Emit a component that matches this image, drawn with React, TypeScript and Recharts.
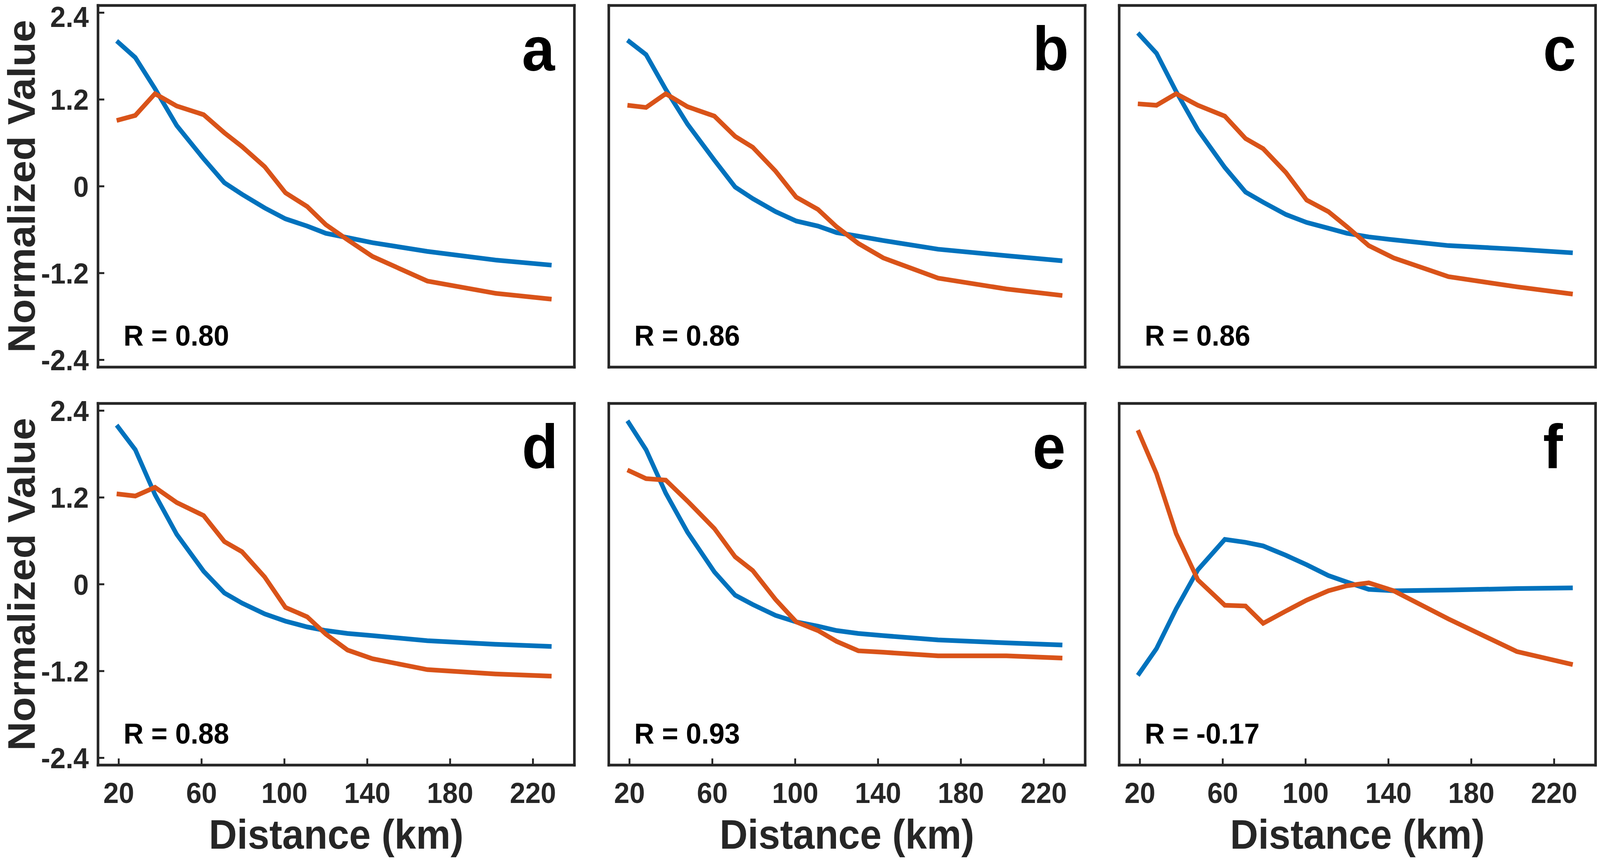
import React, { useEffect, useState } from 'react';
import { LineChart, Line, XAxis, YAxis } from 'recharts';

// ---------------- data ----------------
const distance = [19, 28, 37.5, 48, 61, 71, 79.5, 90.5, 100.5, 111, 120, 130.5, 142.5, 169, 202, 229];

const blueA = [2.01, 1.78, 1.35, 0.84, 0.38, 0.05, -0.11, -0.3, -0.45, -0.55, -0.65, -0.71, -0.78, -0.9, -1.02, -1.09];
const orangeA = [0.91, 0.98, 1.28, 1.11, 0.99, 0.74, 0.55, 0.27, -0.09, -0.28, -0.53, -0.74, -0.97, -1.31, -1.48, -1.56];

const blueB = [2.02, 1.82, 1.34, 0.86, 0.36, -0.01, -0.17, -0.35, -0.48, -0.55, -0.64, -0.69, -0.75, -0.87, -0.96, -1.03];
const orangeB = [1.12, 1.09, 1.28, 1.1, 0.97, 0.69, 0.54, 0.21, -0.15, -0.32, -0.56, -0.79, -0.99, -1.27, -1.42, -1.51];

const blueC = [2.12, 1.84, 1.31, 0.78, 0.26, -0.08, -0.22, -0.39, -0.5, -0.58, -0.65, -0.7, -0.74, -0.82, -0.87, -0.92];
const orangeC = [1.14, 1.12, 1.28, 1.12, 0.97, 0.66, 0.52, 0.19, -0.19, -0.35, -0.56, -0.82, -0.99, -1.25, -1.39, -1.49];

const blueD = [2.2, 1.86, 1.24, 0.69, 0.18, -0.12, -0.26, -0.41, -0.51, -0.59, -0.64, -0.68, -0.71, -0.78, -0.83, -0.86];
const orangeD = [1.25, 1.22, 1.34, 1.13, 0.95, 0.59, 0.45, 0.1, -0.32, -0.45, -0.69, -0.91, -1.03, -1.18, -1.24, -1.27];

const blueE = [2.26, 1.86, 1.26, 0.72, 0.17, -0.15, -0.28, -0.43, -0.52, -0.58, -0.64, -0.68, -0.71, -0.77, -0.81, -0.84];
const orangeE = [1.58, 1.46, 1.44, 1.15, 0.77, 0.38, 0.19, -0.21, -0.52, -0.64, -0.79, -0.92, -0.94, -0.99, -0.99, -1.02];

const blueF = [-1.26, -0.89, -0.34, 0.2, 0.62, 0.58, 0.53, 0.4, 0.27, 0.12, 0.03, -0.07, -0.09, -0.08, -0.06, -0.05];
const orangeF = [2.13, 1.53, 0.7, 0.06, -0.29, -0.3, -0.54, -0.37, -0.22, -0.09, -0.02, 0.02, -0.09, -0.48, -0.93, -1.11];

const blueSeries = [blueA, blueB, blueC, blueD, blueE, blueF];
const orangeSeries = [orangeA, orangeB, orangeC, orangeD, orangeE, orangeF];

const panelLetters = ['a', 'b', 'c', 'd', 'e', 'f'];
const rLabels = ['R = 0.80', 'R = 0.86', 'R = 0.86', 'R = 0.88', 'R = 0.93', 'R = -0.17'];

const xTicks = [20, 60, 100, 140, 180, 220];
const xTickLabels = ['20', '60', '100', '140', '180', '220'];
const yTicks = [-2.4, -1.2, 0, 1.2, 2.4];
const yTickLabels = ['-2.4', '-1.2', '0', '1.2', '2.4'];

const xLabel = 'Distance (km)';
const yLabel = 'Normalized Value';

// ---------------- style / layout ----------------
const FONT = '"Liberation Sans", Arial, Helvetica, sans-serif';
const BLUE = '#0072BD';
const ORANGE = '#D95319';
const AXIS = '#262626';

const PAGE_W = 4326;
const PAGE_H = 2202;
const PLOT_W = 1288;
const PLOT_H = 926;
const L = 265;
const R = 10;
const COL_LEFT = [265, 1646, 3026];
const ROW_TOP = [14, 1033];
const ROW_T = [14, 60];
const ROW_B = [60, 240];
const TICK_FS = 75;

const fmtX = (v: number) => {
  const i = xTicks.indexOf(v);
  return i >= 0 ? xTickLabels[i] : String(v);
};
const fmtY = (v: number) => {
  const i = yTicks.indexOf(v);
  return i >= 0 ? yTickLabels[i] : String(v);
};

// y tick label, kept fully inside the page at the very top
const makeYTick = (minCenter: number) => (props: any) => {
  const { x, y, payload } = props;
  const cy = Math.max(y, minCenter);
  return (
    <text
      x={x}
      y={cy}
      dy="0.355em"
      textAnchor="end"
      fill={AXIS}
      fontSize={TICK_FS}
      fontWeight={700}
      fontFamily={FONT}
    >
      {fmtY(payload.value)}
    </text>
  );
};

function Panel({ idx }: { idx: number }) {
  const row = Math.floor(idx / 3);
  const col = idx % 3;
  const T = ROW_T[row];
  const B = ROW_B[row];
  const width = L + PLOT_W + R;
  const height = T + PLOT_H + B;
  const data = distance.map((d, k) => ({
    x: d,
    blue: blueSeries[idx][k],
    orange: orangeSeries[idx][k],
  }));

  const axisLine: any = { stroke: AXIS, strokeWidth: 7, strokeLinecap: 'square' };
  const tickLine: any = { stroke: AXIS, strokeWidth: 5 };
  const tickStyle: any = { fill: AXIS, fontSize: TICK_FS, fontWeight: 700, fontFamily: FONT };

  const letterContent = () => (
    <text
      x={L + 1146}
      y={T + 166}
      fill="#000"
      fontSize={160}
      fontWeight={700}
      fontFamily={FONT}
      textAnchor="start"
    >
      {panelLetters[idx]}
    </text>
  );

  const bottomContent = () => (
    <g>
      <text
        x={L + 69}
        y={T + PLOT_H - 55}
        fill="#000"
        fontSize={75}
        fontWeight={700}
        fontFamily={FONT}
        textAnchor="start"
      >
        {rLabels[idx]}
      </text>
      {row === 1 && (
        <text
          x={L + PLOT_W / 2}
          y={T + PLOT_H + 214}
          fill={AXIS}
          fontSize={105}
          fontWeight={700}
          fontFamily={FONT}
          textAnchor="middle"
        >
          {xLabel}
        </text>
      )}
    </g>
  );

  const yLabelContent = () => {
    const cy = T + PLOT_H / 2;
    const bx = 94;
    return (
      <text
        x={bx}
        y={cy}
        transform={`rotate(-90 ${bx} ${cy})`}
        fill={AXIS}
        fontSize={103}
        fontWeight={700}
        fontFamily={FONT}
        textAnchor="middle"
      >
        {yLabel}
      </text>
    );
  };

  return (
    <div style={{ position: 'absolute', left: COL_LEFT[col] - L, top: ROW_TOP[row] - T, width, height }}>
      <LineChart width={width} height={height} data={data} margin={{ top: 0, right: 0, bottom: 0, left: 0 }}>
        <XAxis
          xAxisId="bottom"
          dataKey="x"
          type="number"
          orientation="bottom"
          domain={[10, 240]}
          allowDataOverflow
          ticks={xTicks}
          interval={0}
          height={B}
          tickSize={-17}
          tickMargin={61}
          axisLine={axisLine}
          tickLine={tickLine}
          tick={row === 1 ? tickStyle : false}
          tickFormatter={fmtX}
          label={{ content: bottomContent } as any}
        />
        <XAxis
          xAxisId="top"
          dataKey="x"
          type="number"
          orientation="top"
          domain={[10, 240]}
          allowDataOverflow
          ticks={xTicks}
          interval={0}
          height={T}
          tickSize={-17}
          axisLine={axisLine}
          tickLine={tickLine}
          tick={false}
          label={{ content: letterContent } as any}
        />
        <YAxis
          yAxisId="left"
          type="number"
          orientation="left"
          domain={[-2.5, 2.5]}
          allowDataOverflow
          ticks={yTicks}
          interval={0}
          width={L}
          tickSize={-17}
          tickMargin={42}
          axisLine={axisLine}
          tickLine={tickLine}
          tick={col === 0 ? makeYTick(row === 0 ? 42 : -1000) : false}
          label={col === 0 ? ({ content: yLabelContent } as any) : undefined}
        />
        <YAxis
          yAxisId="right"
          type="number"
          orientation="right"
          domain={[-2.5, 2.5]}
          allowDataOverflow
          ticks={yTicks}
          interval={0}
          width={R}
          tickSize={-17}
          axisLine={axisLine}
          tickLine={tickLine}
          tick={false}
        />
        <Line
          xAxisId="bottom"
          yAxisId="left"
          type="linear"
          dataKey="blue"
          stroke={BLUE}
          strokeWidth={12}
          dot={false}
          activeDot={false}
          isAnimationActive={false}
        />
        <Line
          xAxisId="bottom"
          yAxisId="left"
          type="linear"
          dataKey="orange"
          stroke={ORANGE}
          strokeWidth={12}
          dot={false}
          activeDot={false}
          isAnimationActive={false}
        />
      </LineChart>
    </div>
  );
}

function getScale() {
  if (typeof window === 'undefined') return { sx: 1, sy: 1 };
  const w = window.innerWidth || PAGE_W;
  const h = window.innerHeight || PAGE_H;
  return { sx: Math.min(1, w / PAGE_W), sy: Math.min(1, h / PAGE_H) };
}

export default function App() {
  const [scale, setScale] = useState(getScale());
  useEffect(() => {
    const onResize = () => setScale(getScale());
    window.addEventListener('resize', onResize);
    onResize();
    return () => window.removeEventListener('resize', onResize);
  }, []);

  return (
    <div
      style={{
        position: 'absolute',
        left: 0,
        top: 0,
        width: PAGE_W,
        height: PAGE_H,
        background: '#fff',
        overflow: 'hidden',
        transform: `scale(${scale.sx}, ${scale.sy})`,
        transformOrigin: '0 0',
      }}
    >
      {[0, 1, 2, 3, 4, 5].map((i) => (
        <Panel key={i} idx={i} />
      ))}
    </div>
  );
}
